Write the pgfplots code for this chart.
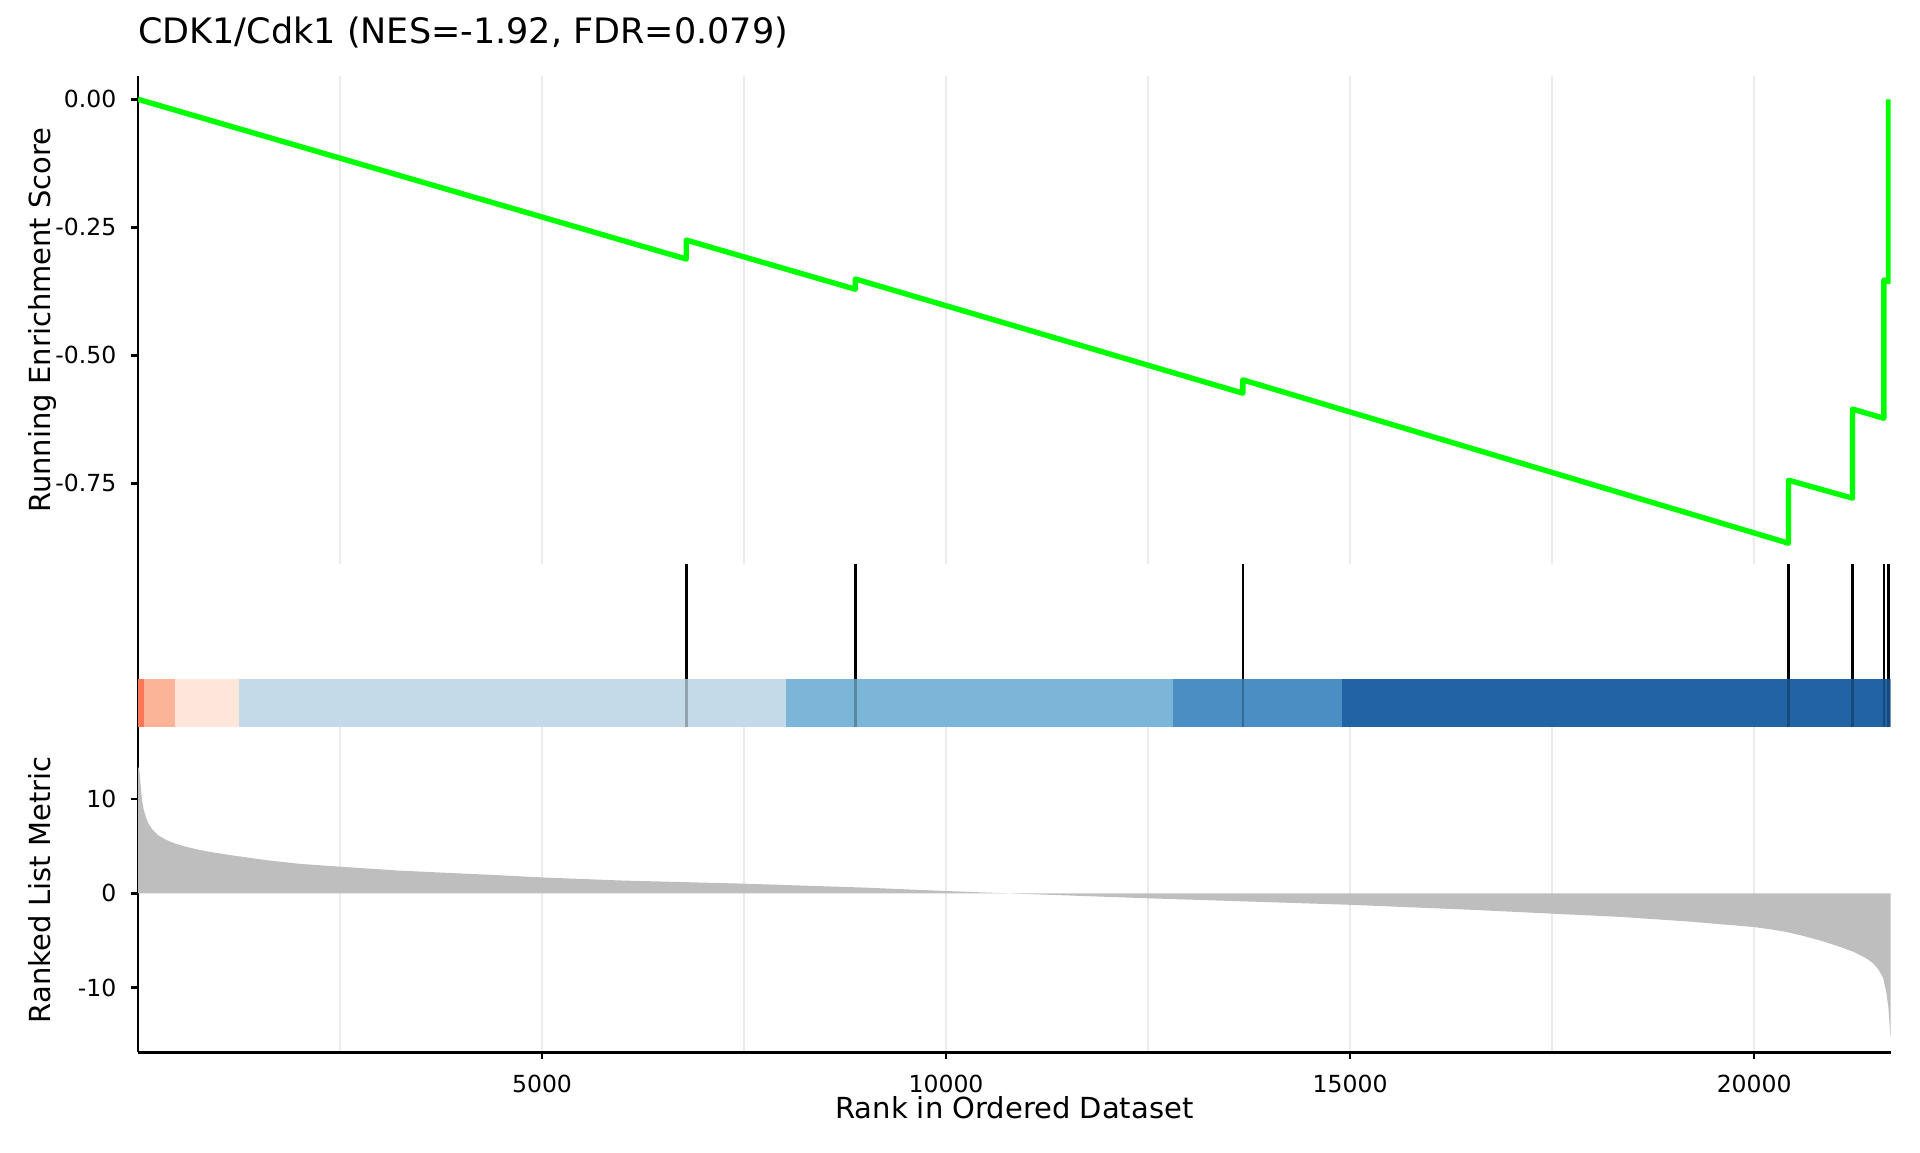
\documentclass[border=0pt]{standalone}
\usepackage{pgfplots}
\pgfplotsset{compat=1.18}
\usepackage{fontspec}
\setmainfont{DejaVu Sans}
\definecolor{esgreen}{HTML}{00FF00}
\definecolor{gridgray}{HTML}{EBEBEB}
\definecolor{metricgray}{HTML}{BEBEBE}
\definecolor{cRed}{HTML}{FB7758}
\definecolor{cSalmon}{HTML}{FCB499}
\definecolor{cPink}{HTML}{FEE6DB}
\definecolor{cLBlue}{HTML}{C4DAE8}
\definecolor{cMBlue}{HTML}{7BB5D8}
\definecolor{cBlue}{HTML}{4A8EC3}
\definecolor{cDBlue}{HTML}{2163A5}
\pgfplotstableread{
rank metric
0 13.4
17 13.1
35 11.2
50 9.9
70 8.9
100 8.0
130 7.4
174 6.8
250 6.15
339 5.7
450 5.3
586 4.95
750 4.62
900 4.38
1100 4.1
1263 3.9
1600 3.5
2005 3.12
2500 2.82
3243 2.4
4480 1.91
5000 1.68
6000 1.35
7500 1.02
9000 0.6
10000 0.24
10750 0.0
12500 -0.53
15000 -1.22
16500 -1.75
17500 -2.16
18340 -2.5
19200 -3.0
20000 -3.58
20200 -3.82
20400 -4.1
20600 -4.5
20814 -5.0
21000 -5.5
21226 -6.19
21380 -6.85
21473 -7.42
21540 -8.1
21597 -9.0
21638 -10.6
21662 -12.2
21678 -14.2
21688 -15.3
}\metrictable
\begin{document}
\begin{tikzpicture}
\useasboundingbox (0,0) rectangle (960pt,576pt);
\pgfplotsset{
  gsea/.style={
    scale only axis, width=876.35pt, xmin=0, xmax=21690, anchor=south west,
    scaled x ticks=false, scaled y ticks=false,
    axis y line*=left, axis x line*=bottom,
    axis line style={-, line width=1.25pt, black},
    tick style={line width=1.25pt, black}, tick align=outside,
    major tick length=3.5pt, minor tick length=0pt,
    grid style={line width=0.8pt, color=gridgray},
    yticklabel style={font=\fontsize{11.75}{14}\selectfont, anchor=east, inner sep=0pt, xshift=-7.15pt},
    xticklabel style={font=\fontsize{11.75}{14}\selectfont, anchor=base, inner sep=0pt, yshift=-16.35pt},
    ylabel style={font=\fontsize{14.5}{17}\selectfont, at={(axis description cs:-0.0502,0.5)}, anchor=base, inner sep=0pt},
    xlabel style={font=\fontsize{14.5}{17}\selectfont, at={(axis description cs:0.5,-0.2022)}, anchor=base, inner sep=0pt},
  }
}
% top panel: running enrichment score
\begin{axis}[gsea, at={(69pt,294pt)}, height=244pt,
  ymin=-0.9076, ymax=0.0455,
  x axis line style={draw=none}, xtick style={draw=none},
  xtick={2500,5000,7500,10000,12500,15000,17500,20000}, xticklabels={},
  xmajorgrids,
  ytick={0,-0.25,-0.5,-0.75}, yticklabels={0.00,-0.25,-0.50,-0.75},
  ylabel={Running Enrichment Score},
  title={CDK1/Cdk1 (NES=-1.92, FDR=0.079)},
  title style={at={(axis description cs:0,1)}, anchor=base west, inner sep=0pt, yshift=10.25pt, font=\fontsize{17.5}{21}\selectfont},
]
\addplot[esgreen, line width=2.7pt, line join=round] coordinates {
(0,0)
(6785,-0.312) (6785,-0.275)
(8877,-0.371) (8877,-0.351)
(13672,-0.574) (13672,-0.548)
(20425,-0.867) (20425,-0.744)
(21217,-0.779) (21217,-0.605)
(21605,-0.623) (21605,-0.353)
(21663,-0.356) (21663,0)
};
\end{axis}
% middle panel: hits and colour bar
\begin{axis}[gsea, at={(69pt,212.35pt)}, height=81.65pt,
  ymin=0, ymax=1,
  x axis line style={draw=none}, xtick=\empty, ytick=\empty,
]
\addplot[ycomb, black, line width=1.25pt] coordinates {(6785,1)(8877,1)(13672,1)(20425,1)(21217,1)(21605,1)(21663,1)};
\addplot[draw=none, fill=cRed] coordinates {(0,0.2958)(74,0.2958)} \closedcycle;
\addplot[draw=none, fill=cSalmon] coordinates {(74,0.2958)(459,0.2958)} \closedcycle;
\addplot[draw=none, fill=cPink] coordinates {(459,0.2958)(1251,0.2958)} \closedcycle;
\addplot[draw=none, fill=cLBlue] coordinates {(1251,0.2958)(8019,0.2958)} \closedcycle;
\addplot[draw=none, fill=cMBlue] coordinates {(8019,0.2958)(12809,0.2958)} \closedcycle;
\addplot[draw=none, fill=cBlue] coordinates {(12809,0.2958)(14900,0.2958)} \closedcycle;
\addplot[draw=none, fill=cDBlue] coordinates {(14900,0.2958)(21690,0.2958)} \closedcycle;
\addplot[ycomb, black, opacity=0.25, line width=1.25pt] coordinates {(6785,0.2958)(8877,0.2958)(13672,0.2958)(20425,0.2958)(21217,0.2958)(21605,0.2958)(21663,0.2958)};
\end{axis}
% bottom panel: ranked list metric
\begin{axis}[gsea, at={(69pt,49.85pt)}, height=162.5pt,
  ymin=-16.86, ymax=17.6,
  xtick={5000,10000,15000,20000}, xticklabels={5000,10000,15000,20000},
  minor xtick={2500,7500,12500,17500},
  xmajorgrids, xminorgrids,
  ytick={-10,0,10}, yticklabels={-10,0,10},
  xlabel={Rank in Ordered Dataset},
  ylabel={Ranked List Metric},
]
\addplot[draw=none, fill=metricgray] table[x=rank, y=metric] {\metrictable} \closedcycle;
\end{axis}
\end{tikzpicture}
\end{document}
